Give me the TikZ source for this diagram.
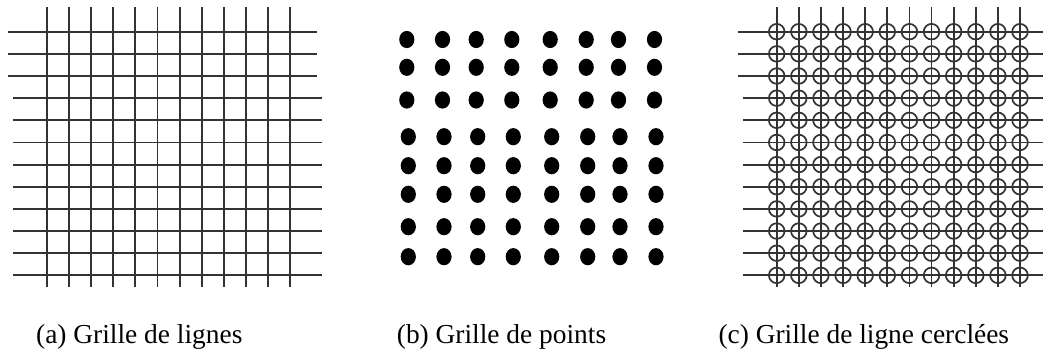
\documentclass[tikz,border=0pt]{standalone}
\usepackage{fontspec}
\setmainfont{Liberation Serif}
\begin{document}
\begin{tikzpicture}[x=1pt,y=-1pt,
  gridline/.style={line width=1.8pt, black!80},
  ring/.style={line width=1.7pt, black!80},
  caption/.style={anchor=base west, inner sep=0pt, font=\fontsize{27.4}{30}\selectfont}]
\useasboundingbox (0,0) rectangle (1043,351);
% (a) grid of lines
\foreach \i in {0,...,11}
  \draw[gridline] ({46.7+22.15*\i},7.3) -- ({46.7+22.15*\i},287.3);
\foreach \j in {0,1,2}
  \draw[gridline] (8.3,{31.7+22.15*\j}) -- (316.7,{31.7+22.15*\j});
\foreach \j in {3,...,11}
  \draw[gridline] (13.3,{31.7+22.15*\j}) -- (321.7,{31.7+22.15*\j});
% (b) grid of points
\foreach \y [count=\r] in {39.5,67.3,100,136.7,165.7,194.3,226.7,256.7}
  \foreach \x in {408.3,444,477.7,513.3,551.7,587.7,620,656}
    \fill ({\x-(\r<4 ? 1.5 : 0)},\y) ellipse [x radius=7.6, y radius=8.6];
% (c) grid of circled lines
\foreach \i in {0,...,11}
  \draw[gridline] ({776.7+22.12*\i},7.3) -- ({776.7+22.12*\i},287.3);
\foreach \j in {0,1,2}
  \draw[gridline] (738.3,{31.7+22.15*\j}) -- (1043,{31.7+22.15*\j});
\foreach \j in {3,...,11}
  \draw[gridline] (743.3,{31.7+22.15*\j}) -- (1043,{31.7+22.15*\j});
\foreach \i in {0,...,11}
  \foreach \j in {0,...,11}
    \draw[ring] ({776.7+22.12*\i},{31.7+22.15*\j}) circle [radius=7.8];
% captions
\node[caption] (capa) at (36,343) {(a) Grille de lignes};
\node[caption] (capb) at (396.7,343) {(b) Grille de points};
\node[caption] (capc) at (718.3,343) {(c) Grille de ligne cerclées};
\end{tikzpicture}
\end{document}
